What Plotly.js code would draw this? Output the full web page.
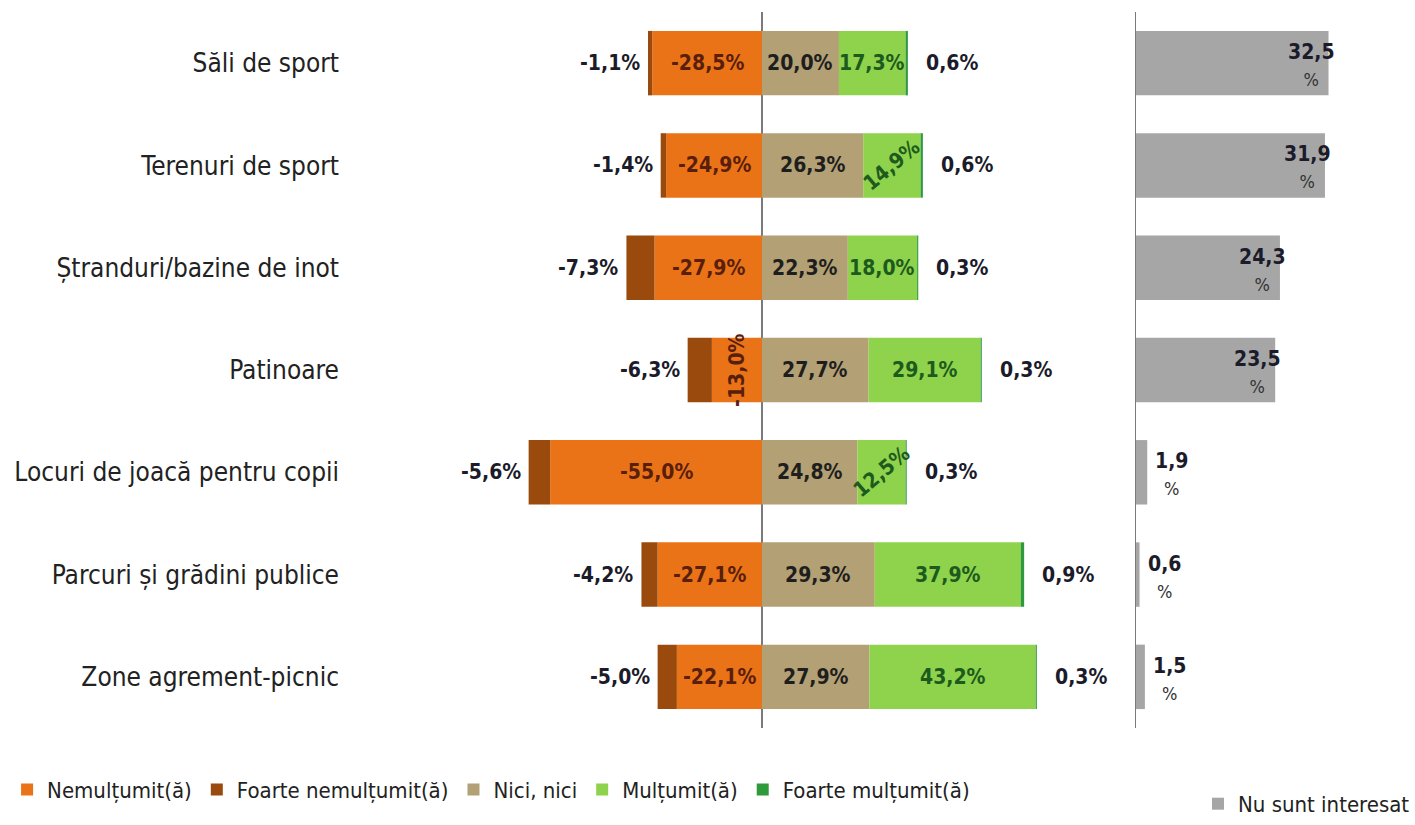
<!DOCTYPE html>
<html>
<head>
<meta charset="utf-8">
<script src="https://cdn.plot.ly/plotly-3.0.1.min.js"></script>
<style>html,body{margin:0;padding:0;background:#fff;}#chart{width:1415px;height:825px;}</style>
</head>
<body>
<div id="chart"></div>
<script>
const categories = ["Săli de sport","Terenuri de sport","Ștranduri/bazine de inot","Patinoare","Locuri de joacă pentru copii","Parcuri și grădini publice","Zone agrement-picnic"];
const nemultumit = [-28.5,-24.9,-27.9,-13.0,-55.0,-27.1,-22.1];
const foarteNemultumit = [-1.1,-1.4,-7.3,-6.3,-5.6,-4.2,-5.0];
const niciNici = [20.0,26.3,22.3,27.7,24.8,29.3,27.9];
const multumit = [17.3,14.9,18.0,29.1,12.5,37.9,43.2];
const foarteMultumit = [0.6,0.6,0.3,0.3,0.3,0.9,0.3];
const nuSuntInteresat = [32.5,31.9,24.3,23.5,1.9,0.6,1.5];

const FONT = "'Liberation Sans Narrow','DejaVu Sans Condensed','Arial Narrow',sans-serif";
const C = {nem:'#EA7317', fnem:'#9A4A0C', nici:'#B3A074', mul:'#8FD24C', fmul:'#2E9A3C', nu:'#A6A6A6'};
const fmt = v => v.toFixed(1).replace('.', ',');

// label rotation overrides (style only)
const rot = {nem:{3:-90}, mul:{1:-40,4:-40}};

function bar(name, vals, color, extra){
  return Object.assign({type:'bar', orientation:'h', name:name, y:categories, x:vals,
    marker:{color:color, line:{width:0}}, hoverinfo:'x+name', xaxis:'x', yaxis:'y'}, extra||{});
}
const traces = [
  bar('Nemulțumit(ă)', nemultumit, C.nem),
  bar('Foarte nemulțumit(ă)', foarteNemultumit, C.fnem),
  bar('Nici, nici', niciNici, C.nici),
  bar('Mulțumit(ă)', multumit, C.mul),
  bar('Foarte mulțumit(ă)', foarteMultumit, C.fmul),
  {type:'bar', orientation:'h', name:'Nu sunt interesat', y:categories, x:nuSuntInteresat,
   marker:{color:C.nu}, xaxis:'x2', yaxis:'y2', legend:'legend2'}
];

const ann = [];
const lblFont = (color) => ({family:FONT, size:21, color:color, weight:'bold'});
categories.forEach((c,i)=>{
  // inner labels
  ann.push({x:nemultumit[i]/2, y:c, xref:'x', yref:'y', text:fmt(nemultumit[i])+'%', showarrow:false,
    textangle:(rot.nem[i]||0), font:lblFont('#5a1e0c')});
  ann.push({x:niciNici[i]/2, y:c, xref:'x', yref:'y', text:fmt(niciNici[i])+'%', showarrow:false,
    font:lblFont('#1e1e1e')});
  ann.push({x:niciNici[i]+multumit[i]/2, y:c, xref:'x', yref:'y', text:fmt(multumit[i])+'%', showarrow:false,
    textangle:(rot.mul[i]||0), font:lblFont('#1d5a1d')});
  // outer labels
  ann.push({x:nemultumit[i]+foarteNemultumit[i], y:c, xref:'x', yref:'y', text:fmt(foarteNemultumit[i])+'%',
    showarrow:false, xanchor:'right', xshift:-6, font:lblFont('#1b1b2a')});
  ann.push({x:niciNici[i]+multumit[i]+foarteMultumit[i], y:c, xref:'x', yref:'y', text:fmt(foarteMultumit[i])+'%',
    showarrow:false, xanchor:'left', xshift:16, font:lblFont('#1b1b2a')});
  // right panel
  const v = nuSuntInteresat[i];
  const big = v > 10;
  ann.push({x:v, y:c, xref:'x2', yref:'y2', showarrow:false, align:'center',
    text:fmt(v)+'<br><span style="font-size:18px;font-weight:normal;color:#333">%</span>',
    xanchor: big ? 'right' : 'left', xshift: big ? 8 : 6, yshift:-2,
    font:lblFont('#1b1b2a')});
});

const layout = {
  width:1415, height:825,
  margin:{l:0, r:0, t:12, b:92},
  paper_bgcolor:'#fff', plot_bgcolor:'rgba(0,0,0,0)',
  barmode:'relative', bargap:0.37,
  font:{family:FONT, color:'#222'},
  xaxis:{domain:[350/1415, 1115/1415], range:[-107, 91.7], showgrid:false, showticklabels:false,
    zeroline:true, zerolinecolor:'#7a7a7a', zerolinewidth:1.5, fixedrange:true},
  yaxis:{type:'category', autorange:'reversed', showgrid:false, ticks:'', showline:false,
    tickfont:{family:FONT, size:26, color:'#222'}, ticklabelstandoff:10},
  xaxis2:{domain:[1136/1415, 1], range:[0, 47.1], anchor:'y2', showgrid:false, showticklabels:false, zeroline:false},
  yaxis2:{type:'category', autorange:'reversed', anchor:'x2', showline:true, linecolor:'#7a7a7a', linewidth:1.5,
    showticklabels:false, ticks:'', showgrid:false},
  showlegend:true,
  legend:{orientation:'h', x:0.005, y:-0.086, xanchor:'left', yanchor:'middle',
    font:{family:FONT, size:22, color:'#222'}, itemwidth:30, traceorder:'normal'},
  legend2:{orientation:'h', x:1, y:-0.106, xanchor:'right', yanchor:'middle',
    font:{family:FONT, size:22, color:'#222'}},
  annotations:ann
};
Plotly.newPlot('chart', traces, layout, {displayModeBar:false, staticPlot:true});
</script>
</body>
</html>
